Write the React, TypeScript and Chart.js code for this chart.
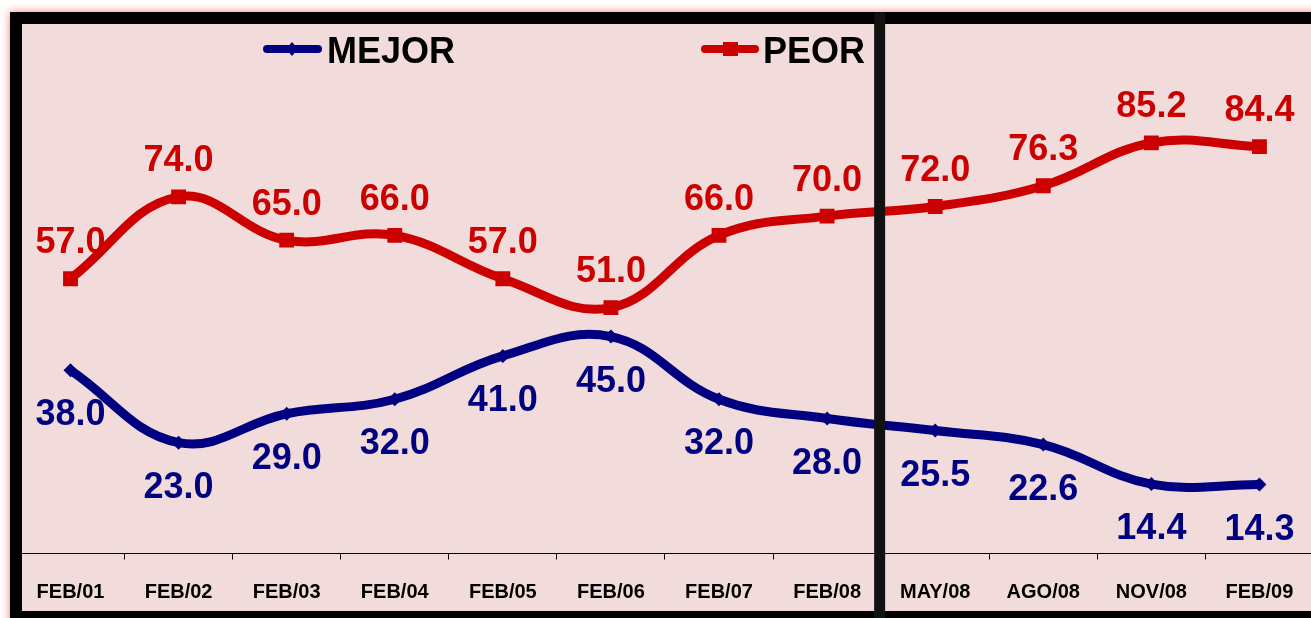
import { useEffect, useRef } from "react";
import { Chart, registerables } from "chart.js";

Chart.register(...registerables);

const categories = [
  "FEB/01", "FEB/02", "FEB/03", "FEB/04", "FEB/05", "FEB/06",
  "FEB/07", "FEB/08", "MAY/08", "AGO/08", "NOV/08", "FEB/09",
];
const mejorValues = [38.0, 23.0, 29.0, 32.0, 41.0, 45.0, 32.0, 28.0, 25.5, 22.6, 14.4, 14.3];
const peorValues = [57.0, 74.0, 65.0, 66.0, 57.0, 51.0, 66.0, 70.0, 72.0, 76.3, 85.2, 84.4];
const seriesNames = ["MEJOR", "PEOR"];
const dividerAfter = 7.5; // between FEB/08 and MAY/08

const BLUE = "#000080";
const RED = "#CC0000";
const PINK = "#F2DCDB";
const FONT_FAMILY = '"Liberation Sans", Arial, sans-serif';

const CANVAS_W = 1324;
const CANVAS_H = 618;

const framePlugin = {
  id: "frame",
  beforeDraw(chart: any) {
    const { ctx, width, height } = chart;
    ctx.save();
    ctx.fillStyle = "#ffffff";
    ctx.fillRect(0, 0, width, height);
    ctx.shadowColor = "rgba(255,110,110,0.9)";
    ctx.shadowBlur = 9;
    ctx.fillStyle = "#000";
    ctx.fillRect(10, 12, width + 40, height + 40);
    ctx.restore();
    ctx.save();
    ctx.fillStyle = PINK;
    ctx.fillRect(22, 24, width + 40, 611 - 24);
    ctx.restore();
  },
  afterDraw(chart: any) {
    const { ctx, width, height } = chart;
    ctx.save();
    // frame bands
    ctx.fillStyle = "#000";
    ctx.fillRect(10, 12, 12, height);
    ctx.fillRect(10, 12, width, 12);
    ctx.fillRect(10, 611, width, height);
    // divider
    const xd = chart.scales.x.getPixelForValue(dividerAfter);
    ctx.fillStyle = "#111";
    ctx.fillRect(xd - 7, 12, 11, height);

    // legend
    ctx.lineCap = "round";
    ctx.lineWidth = 8;
    ctx.strokeStyle = BLUE;
    ctx.beginPath();
    ctx.moveTo(267, 49);
    ctx.lineTo(318, 49);
    ctx.stroke();
    ctx.fillStyle = BLUE;
    ctx.beginPath();
    ctx.moveTo(292, 42);
    ctx.lineTo(298, 49);
    ctx.lineTo(292, 56);
    ctx.lineTo(286, 49);
    ctx.closePath();
    ctx.fill();

    ctx.strokeStyle = RED;
    ctx.beginPath();
    ctx.moveTo(705, 49);
    ctx.lineTo(755, 49);
    ctx.stroke();
    ctx.fillStyle = RED;
    ctx.fillRect(723, 42, 15, 14);

    ctx.fillStyle = "#000";
    ctx.font = `bold 36px ${FONT_FAMILY}`;
    ctx.textAlign = "left";
    ctx.textBaseline = "alphabetic";
    ctx.fillText(seriesNames[0], 327, 63);
    ctx.fillText(seriesNames[1], 763, 63);

    // data labels
    ctx.textAlign = "center";
    chart.data.datasets.forEach((ds: any, i: number) => {
      const meta = chart.getDatasetMeta(i);
      ctx.fillStyle = ds.borderColor;
      meta.data.forEach((pt: any, j: number) => {
        const v = ds.data[j] as number;
        const y = i === 0 ? pt.y + 55 : pt.y - 25.5;
        ctx.fillText(v.toFixed(1), pt.x, y);
      });
    });
    ctx.restore();
  },
};

export default function App() {
  const ref = useRef<HTMLCanvasElement | null>(null);

  useEffect(() => {
    if (!ref.current) return;
    const chart = new Chart(ref.current, {
      type: "line",
      data: {
        labels: categories,
        datasets: [
          {
            label: seriesNames[0],
            data: mejorValues,
            borderColor: BLUE,
            backgroundColor: BLUE,
            borderWidth: 9,
            pointStyle: "rectRot",
            pointRadius: 7,
            pointBorderWidth: 0,
            tension: 0.4,
            fill: false,
          },
          {
            label: seriesNames[1],
            data: peorValues,
            borderColor: RED,
            backgroundColor: RED,
            borderWidth: 9,
            pointStyle: "rect",
            pointRadius: 10.5,
            pointBorderWidth: 0,
            tension: 0.4,
            fill: false,
          },
        ],
      },
      options: {
        responsive: false,
        animation: false,
        devicePixelRatio: 1,
        events: [],
        layout: {
          padding: { left: 16.45, right: 6.35, top: 71.5, bottom: 15 },
        },
        plugins: {
          legend: { display: false },
          tooltip: { enabled: false },
          title: { display: false },
        },
        scales: {
          x: {
            type: "category",
            offset: true,
            afterFit(scale: any) {
              scale.height = 49.5;
            },
            grid: {
              offset: true,
              drawOnChartArea: false,
              drawTicks: true,
              tickLength: 6,
              color: "#000",
              lineWidth: 1,
            },
            border: { display: true, color: "#000", width: 1 },
            ticks: {
              color: "#000",
              padding: 21,
              maxRotation: 0,
              autoSkip: false,
              font: { family: FONT_FAMILY, size: 20, weight: "bold" },
            },
          },
          y: {
            display: false,
            min: 0,
            max: 100,
          },
        },
      },
      plugins: [framePlugin],
    });
    return () => chart.destroy();
  }, []);

  return (
    <div
      style={{
        position: "fixed",
        left: 0,
        top: 0,
        width: 1311,
        height: 618,
        overflow: "hidden",
      }}
    >
      <canvas ref={ref} width={CANVAS_W} height={CANVAS_H} style={{ display: "block" }} />
    </div>
  );
}
